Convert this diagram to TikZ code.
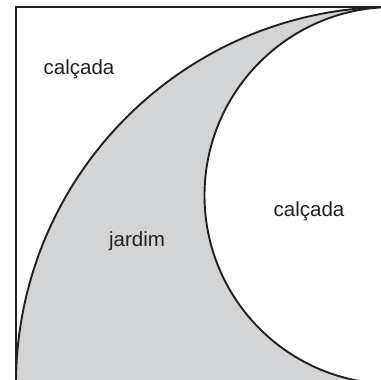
\documentclass[tikz,border=0pt]{standalone}
\usepackage{fontspec}
\setmainfont{Liberation Sans}
\definecolor{jardimgray}{RGB}{211,212,214}
\definecolor{linegray}{RGB}{35,31,32}
\tikzset{
  edge/.style={draw=linegray, line width=1.9pt},
  lbl/.style={font=\fontsize{20.5}{24}\selectfont, text=linegray, inner sep=0pt}
}
\begin{document}
\begin{tikzpicture}[x=1pt,y=1pt]
\useasboundingbox (0,0) rectangle (381,380);
\clip (0,0) rectangle (381,380);
% gray garden region
\fill[jardimgray] (16,-4) arc[start angle=180, end angle=90, radius=377]
  arc[start angle=90, end angle=270, radius=188.5] -- cycle;
% outer quarter circle
\draw[edge] (16,-4) arc[start angle=180, end angle=90, radius=377];
% inner semicircle
\draw[edge] (393,373) arc[start angle=90, end angle=270, radius=188.5];
% square edges (left and top)
\draw[edge] (16,-10) -- (16,373) -- (400,373);
% labels
\node[lbl] (c1) at (79,311) {calçada};
\node[lbl] (c2) at (309,169) {calçada};
\node[lbl] (j) at (137,139) {jardim};
\end{tikzpicture}
\end{document}
